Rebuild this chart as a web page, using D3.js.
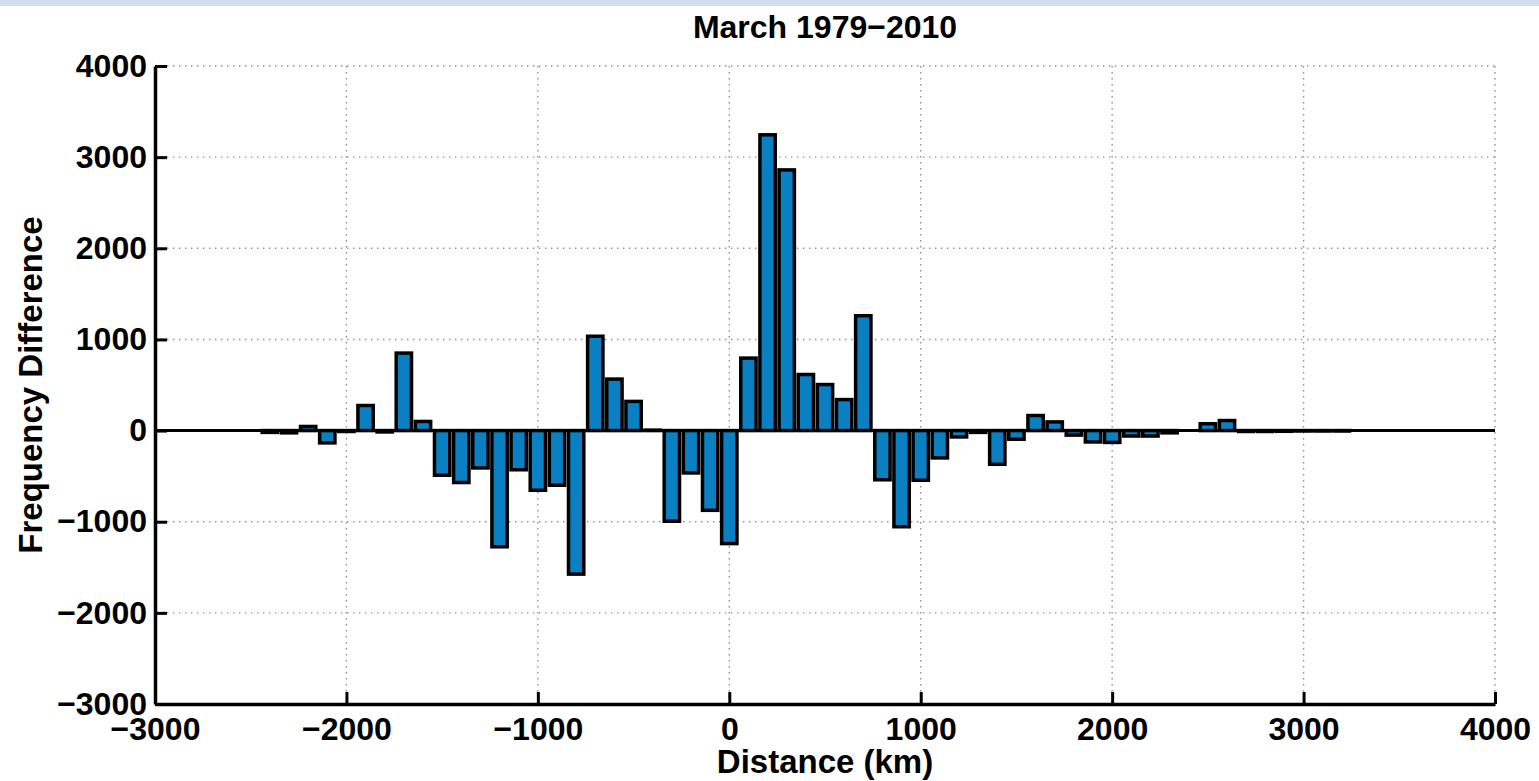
<!DOCTYPE html>
<html>
<head>
<meta charset="utf-8">
<script src="https://cdn.jsdelivr.net/npm/d3@7"></script>
<style>
  html, body { margin: 0; padding: 0; background: #fff; }
  svg { display: block; }
  text { font-family: "Liberation Sans", Arial, Helvetica, sans-serif; font-weight: bold; fill: #000; }
</style>
</head>
<body>
<svg id="chart" width="1539" height="781"></svg>
<script>
// Bin centres (km) and the March 1979–2010 frequency difference in each bin
const distances = [
  -2400, -2300, -2200, -2100, -2000, -1900, -1800, -1700, -1600, -1500,
  -1400, -1300, -1200, -1100, -1000, -900, -800, -700, -600, -500,
  -400, -300, -200, -100, 0, 100, 200, 300, 400, 500,
  600, 700, 800, 900, 1000, 1100, 1200, 1300, 1400, 1500,
  1600, 1700, 1800, 1900, 2000, 2100, 2200, 2300, 2400, 2500,
  2600, 2700, 2800, 2900, 3000, 3100, 3200
];
const freqDiff = [
  -20, -25, 45, -135, -10, 275, -15, 850, 100, -490,
  -570, -410, -1275, -430, -655, -600, -1575, 1035, 565, 320,
  5, -995, -465, -875, -1240, 795, 3245, 2860, 615, 505,
  340, 1260, -540, -1055, -545, -300, -70, -20, -370, -95,
  165, 95, -50, -125, -130, -60, -60, -25, 0, 75,
  110, -10, -10, -8, -5, -5, -5
];
const xTicks = [-3000, -2000, -1000, 0, 1000, 2000, 3000, 4000];
const yTicks = [-3000, -2000, -1000, 0, 1000, 2000, 3000, 4000];

const titleText = "March 1979\u22122010";
const xLabel = "Distance (km)";
const yLabel = "Frequency Difference";

const svg = d3.select("#chart");
const W = 1539, H = 781;
const plot = { left: 155, right: 1495, top: 66, bottom: 704 };

// light band along the top of the window
svg.append("rect").attr("x", 0).attr("y", 0).attr("width", W).attr("height", 6)
  .attr("fill", "#cfdff1");

const x = d3.scaleLinear().domain([-3000, 4000]).range([plot.left, plot.right]);
const y = d3.scaleLinear().domain([-3000, 4000]).range([plot.bottom, plot.top]);

// dotted grid
const grid = svg.append("g").attr("stroke", "#8f8f8f").attr("stroke-width", 1.4)
  .attr("stroke-dasharray", "1.4,4.6");
grid.selectAll("line.gx").data(xTicks.filter(d => d > -3000)).join("line")
  .attr("class", "gx")
  .attr("x1", d => x(d)).attr("x2", d => x(d))
  .attr("y1", plot.top).attr("y2", plot.bottom);
grid.selectAll("line.gy").data(yTicks.filter(d => d > -3000)).join("line")
  .attr("class", "gy")
  .attr("y1", d => y(d)).attr("y2", d => y(d))
  .attr("x1", plot.left).attr("x2", plot.right);

// bars: width is 0.8 of the 100 km bin spacing
const binW = x(100) - x(0);
const barW = binW * 0.8;
const data = distances.map((d, i) => ({ d, v: freqDiff[i] }));

// zero baseline across the axes
svg.append("line")
  .attr("x1", plot.left).attr("x2", plot.right)
  .attr("y1", y(0)).attr("y2", y(0))
  .attr("stroke", "#000").attr("stroke-width", 3);

svg.append("g").selectAll("rect").data(data).join("rect")
  .attr("x", p => x(p.d) - barW / 2)
  .attr("width", barW)
  .attr("y", p => Math.min(y(p.v), y(0)))
  .attr("height", p => Math.abs(y(p.v) - y(0)))
  .attr("fill", "#0a80c2")
  .attr("stroke", "#000")
  .attr("stroke-width", 3.5)
  .attr("stroke-linejoin", "miter");

// axes with inward ticks
const fmt = d3.format("d");
const xAxis = d3.axisBottom(x).tickValues(xTicks).tickFormat(fmt)
  .tickSizeInner(-12).tickSizeOuter(0).tickPadding(13);
const yAxis = d3.axisLeft(y).tickValues(yTicks).tickFormat(fmt)
  .tickSizeInner(-12).tickSizeOuter(0).tickPadding(8);

const gx = svg.append("g").attr("transform", `translate(0,${plot.bottom})`).call(xAxis);
const gy = svg.append("g").attr("transform", `translate(${plot.left},0)`).call(yAxis);

[gx, gy].forEach(g => {
  g.select(".domain").attr("stroke", "#000").attr("stroke-width", 3.5);
  g.selectAll(".tick line").attr("stroke", "#000").attr("stroke-width", 3);
  g.selectAll(".tick text")
    .attr("font-family", "'Liberation Sans', Arial, Helvetica, sans-serif")
    .attr("font-weight", "bold")
    .attr("font-size", 32)
    .attr("fill", "#000");
});

// title and axis labels
svg.append("text").attr("x", 825).attr("y", 38).attr("text-anchor", "middle")
  .attr("font-size", 32).text(titleText);
svg.append("text").attr("x", 825).attr("y", 773).attr("text-anchor", "middle")
  .attr("font-size", 33).text(xLabel);
svg.append("text")
  .attr("transform", `translate(42,385) rotate(-90)`)
  .attr("text-anchor", "middle")
  .attr("font-size", 33).text(yLabel);
</script>
</body>
</html>
